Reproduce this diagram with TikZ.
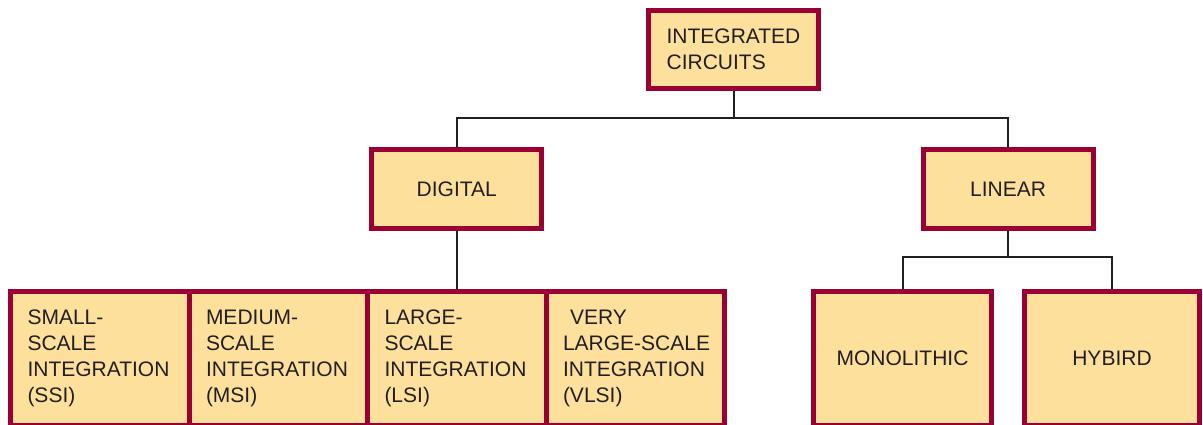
\documentclass[tikz,border=0pt]{standalone}
\usepackage{fontspec}
\setmainfont{Liberation Sans}
\usepackage{tikz}
\usetikzlibrary{positioning,calc}
\definecolor{icred}{HTML}{9B0033}
\definecolor{icfill}{HTML}{FDE09B}
\definecolor{ictext}{HTML}{231F20}
\tikzset{
  % boxes
  icbox/.style={draw=icred,fill=icfill,line width=5pt,text=ictext,inner sep=0pt,
                align=left,font=\fontsize{21}{26}\selectfont},
  topbox/.style={icbox,minimum width=170pt,minimum height=79pt},
  leafbox/.style={icbox,text width=144.5pt,inner xsep=17pt,minimum height=133.5pt},
  sidebox/.style={icbox,minimum height=133.5pt},
  % lines
  link/.style={draw=ictext,line width=2pt},
}
\begin{document}
\begin{tikzpicture}[x=1pt,y=-1pt]
  \clip (0,0) rectangle (1203,424);
  \node[topbox,minimum height=78pt] (ic) at (733.5,49.5) {INTEGRATED\\CIRCUITS};
  \node[topbox] (dig) at (456.75,189) {DIGITAL};
  \node[topbox] (lin) at (1008,189) {LINEAR};
  % digital row
  \node[leafbox] (ssi) at (99.75,358.25) {SMALL-\\SCALE\\INTEGRATION\\(SSI)};
  \node[leafbox] (msi) at (278.25,358.25) {MEDIUM-\\SCALE\\INTEGRATION\\(MSI)};
  \node[leafbox] (lsi) at (456.75,358.25) {LARGE-\\SCALE\\INTEGRATION\\(LSI)};
  \node[leafbox] (vlsi) at (635.25,358.25) {\ VERY\\\mbox{LARGE-SCALE}\\INTEGRATION\\(VLSI)};
  % linear row
  \node[sidebox,minimum width=178pt] (mono) at (902.5,358.25) {MONOLITHIC};
  \node[sidebox,minimum width=175pt] (hyb) at (1112,358.25) {HYBIRD};
  \coordinate (j1) at (ic.south |- 0,118);
  \coordinate (j2) at (lin.south |- 0,257);
  \draw[link] (ic.south) -- (j1);
  \draw[link] (dig.north) |- (j1) -| (lin.north);
  \draw[link] (dig.south) -- (lsi.north);
  \draw[link] (lin.south) -- (j2);
  \draw[link] (mono.north) |- (j2) -| (hyb.north);
\end{tikzpicture}
\end{document}
